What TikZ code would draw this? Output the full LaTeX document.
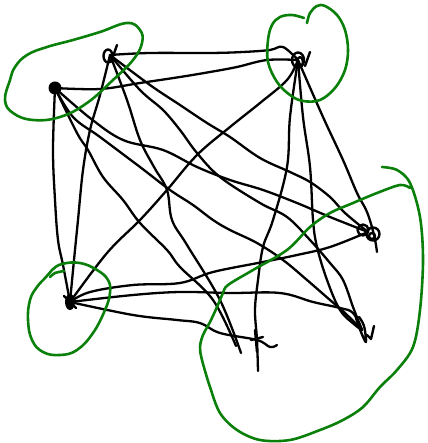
\documentclass[tikz,border=0pt]{standalone}
\usetikzlibrary{calc}
\definecolor{grn}{RGB}{10,128,10}
\begin{document}
\begin{tikzpicture}[x=1pt,y=-1pt,
  edge/.style={line width=2.3pt,line cap=round,line join=round,black},
  blob/.style={line width=2.4pt,line cap=round,line join=round,black},
  cluster/.style={line width=2.6pt,line cap=round,line join=round,grn}]
\useasboundingbox (0,0) rectangle (427,443);
% node positions
\coordinate (A) at (55,88);
\coordinate (B) at (110,55);
\coordinate (C) at (298,60);
\coordinate (D) at (368,232);
\coordinate (E) at (70,302);
\coordinate (F) at (257,340);
\coordinate (G) at (362,330);
\coordinate (Fa) at (236,346);
\coordinate (Fb) at (241,353);
\coordinate (Fc) at (258,371);
\coordinate (Dc) at (377,252);
% connectors
\draw[edge] plot[smooth,tension=0.6] coordinates {(B) (150,53) (210,53) (243,52) (270,50) (283,47) (C)};
\draw[edge] plot[smooth,tension=0.6] coordinates {(A) (100,89) (140,83) (180,77) (210,72) (237,67) (267,60) (C)};
\draw[edge] plot[smooth,tension=0.6] coordinates {(A) (53,150) (55,200) (58,240) (63,265) (E)};
\draw[edge] plot[smooth,tension=0.6] coordinates {(B) (100,95) (90,130) (83,170) (78,220) (74,260) (E)};
\draw[edge] plot[smooth,tension=0.6] coordinates {(C) (287,80) (260,103) (230,127) (197,155) (167,190) (140,220) (107,253) (E)};
\draw[edge] plot[smooth,tension=0.6] coordinates {(C) (290,117) (287,167) (273,220) (263,247) (258,280) (255,310) (F) (Fc)};
\draw[edge] plot[smooth,tension=0.6] coordinates {(C) (303,117) (310,167) (313,220) (317,247) (327,280) (340,310) (355,325) (G)};
\draw[edge] plot[smooth,tension=0.6] coordinates {(C) (323,117) (343,160) (357,193) (367,212) (374,235) (Dc)};
\draw[edge] plot[smooth,tension=0.6] coordinates {(A) (90,118) (123,140) (163,150) (197,167) (230,180) (263,190) (297,203) (330,217) (D)};
\draw[edge] plot[smooth,tension=0.6] coordinates {(B) (150,85) (180,105) (207,123) (230,137) (260,158) (290,172) (310,182) (330,197) (345,213) (D)};
\draw[edge] plot[smooth,tension=0.6] coordinates {(A) (73,117) (100,137) (140,167) (170,190) (193,205) (213,220) (230,230) (257,243) (283,260) (307,280) (330,300) (345,313) (G)};
\draw[edge] plot[smooth,tension=0.6] coordinates {(B) (140,90) (163,110) (180,130) (197,153) (220,177) (260,203) (287,217) (310,240) (330,263) (343,280) (353,307) (G)};
\draw[edge] plot[smooth,tension=0.6] coordinates {(A) (77,133) (88,150) (103,177) (123,200) (140,223) (167,250) (180,267) (213,300) (Fa)};
\draw[edge] plot[smooth,tension=0.6] coordinates {(B) (127,100) (140,140) (154,167) (167,190) (172,220) (187,245) (220,300) (Fb)};
\draw[edge] plot[smooth,tension=0.6] coordinates {(E) (90,292) (133,285) (180,283) (213,272) (263,262) (297,255) (330,247) (D)};
\draw[edge] plot[smooth,tension=0.6] coordinates {(E) (133,295) (180,292) (230,293) (280,293) (313,302) (340,308) (353,313) (G)};
\draw[edge] plot[smooth,tension=0.6] coordinates {(E) (133,315) (177,320) (200,323) (220,333) (F) (270,347) (277,345)};
% node marks
\fill (A) circle (6.5);
\draw[blob] (108,56) ellipse (4.5 and 6.5);
\draw[blob] (111,62) -- (117,45);
\draw[blob] (298,60) ellipse (6 and 7.5);
\draw[blob] (300,62) ellipse (3 and 5);
\draw[blob] (305,66) -- (310,52);
\draw[blob] (363,230) circle (5.5);
\draw[blob] (373,234) circle (6.5);
\draw[blob] (372,236) circle (3);
\fill (E) ellipse (5 and 8);
\draw[blob] (64,296) -- (76,308);
\draw[blob] (255,330) -- (257,352);
\draw[blob] (251,340) -- (263,337);
\draw[blob] plot[smooth,tension=0.6] coordinates {(356,318) (361,332) (366,342) (364,326) (359,317)};
\draw[blob] (367,335) -- (371,339) -- (374,326);
% clusters
\draw[cluster] plot[smooth cycle,tension=0.7] coordinates {(127,23) (140,30) (142,43) (133,60) (113,80) (87,103) (60,117) (33,120) (13,113) (5,100) (10,80) (15,67) (27,55) (47,47) (73,40) (100,32)};
\draw[cluster] plot[smooth,tension=0.6] coordinates {(307,23) (310,13) (317,6) (325,6) (337,15) (345,30) (348,50) (345,70) (335,88) (320,100) (303,101) (290,95) (277,82) (268,62) (268,40) (272,25) (280,17) (292,15) (304,18)};
\draw[cluster] plot[smooth cycle,tension=0.7] coordinates {(52,270) (62,264) (80,263) (97,270) (108,280) (110,293) (105,310) (93,333) (77,350) (60,355) (43,352) (32,340) (28,320) (30,300) (37,287) (46,277)};
\draw[cluster] plot[smooth,tension=0.5] coordinates {(50,277) (55,273) (64,271)};
\draw[cluster] plot[smooth,tension=0.55] coordinates {(382,167) (397,170) (410,183) (420,217) (423,260) (420,310) (413,347) (397,370) (380,387) (363,407) (343,420) (320,430) (290,440) (260,440) (237,430) (220,413) (210,387) (202,360) (200,347) (203,335) (210,322) (217,307) (223,293) (228,285) (253,270) (287,250) (310,227) (330,213) (353,203) (377,193) (400,185) (410,188)};
\end{tikzpicture}
\end{document}
